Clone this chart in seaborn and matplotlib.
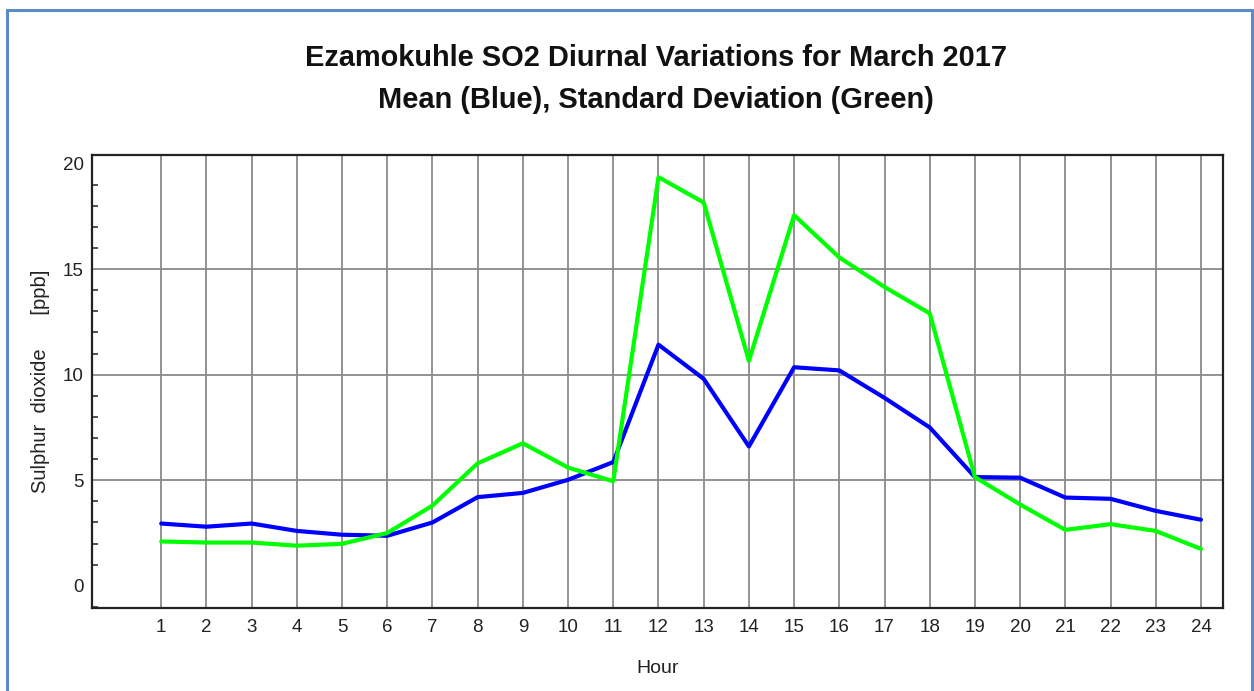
import numpy as np
import pandas as pd
import seaborn as sns
import matplotlib.pyplot as plt
from matplotlib.patches import Rectangle
from matplotlib.ticker import MultipleLocator

# hourly values
hours = list(range(1, 25))
mean_so2 = [2.95, 2.8, 2.95, 2.6, 2.42, 2.37, 3.0, 4.2, 4.4, 5.02, 5.86, 11.42,
            9.8, 6.6, 10.35, 10.2, 8.9, 7.5, 5.15, 5.12, 4.18, 4.12, 3.55, 3.13]
std_so2 = [2.1, 2.05, 2.05, 1.9, 1.99, 2.5, 3.8, 5.8, 6.75, 5.6, 4.95, 19.35,
           18.15, 10.65, 17.55, 15.55, 14.15, 12.9, 5.15, 3.85, 2.65, 2.92, 2.6, 1.75]

df = pd.DataFrame({'Hour': hours * 2,
                   'SO2': mean_so2 + std_so2,
                   'stat': ['Mean'] * 24 + ['Std'] * 24})

sns.set_style('white')
plt.rcParams['font.family'] = ['Liberation Sans', 'DejaVu Sans']

fig = plt.figure(figsize=(12.54, 6.91), dpi=100)
ax = fig.add_axes([0.0734, 0.1201, 0.9016, 0.6556])

# vertical grid at every hour, horizontal grid at 5/10/15
ax.set_xticks(hours)
ax.set_yticks([0, 5, 10, 15, 20])
ax.yaxis.set_minor_locator(MultipleLocator(1))
ax.grid(True, which='major', color='#8a8a8a', linewidth=1.3)
ygl = ax.yaxis.get_gridlines()
ygl[0].set_visible(False)
ygl[-1].set_visible(False)
ax.set_axisbelow(True)

sns.lineplot(data=df, x='Hour', y='SO2', hue='stat',
             palette={'Mean': '#0000ff', 'Std': '#00ff00'},
             linewidth=3, legend=False, ax=ax)

ax.set_xlim(-0.53, 24.48)
ax.set_ylim(-1.05, 20.4)

for s in ax.spines.values():
    s.set_color('#222222')
    s.set_linewidth(1.6)

ax.tick_params(axis='both', which='major', direction='in', length=7, width=1.3,
               color='#222222', labelsize=13.5, labelcolor='#222222')
ax.tick_params(axis='y', which='minor', direction='in', length=4, width=1.1,
               color='#222222', left=True)
ax.tick_params(axis='x', pad=8)
ax.tick_params(axis='y', pad=6)

ax.set_xlabel('Hour', fontsize=14, color='#222222', labelpad=17)
ax.set_ylabel('Sulphur  dioxide      [ppb]', fontsize=14.5, color='#222222', labelpad=9)

fig.text(0.523, 0.916, 'Ezamokuhle SO2 Diurnal Variations for March 2017',
         ha='center', va='center', fontsize=20.9, fontweight='bold', color='#111111')
fig.text(0.523, 0.856, 'Mean (Blue), Standard Deviation (Green)',
         ha='center', va='center', fontsize=20.9, fontweight='bold', color='#111111')

# outer light blue frame
fig.patches.append(Rectangle((7 / 1254, -0.05), 1245 / 1254, 1 - 10 / 691 + 0.05,
                             transform=fig.transFigure, fill=False,
                             edgecolor='#5b8cc8', linewidth=2.2))

fig.savefig('out.png', dpi=100)
